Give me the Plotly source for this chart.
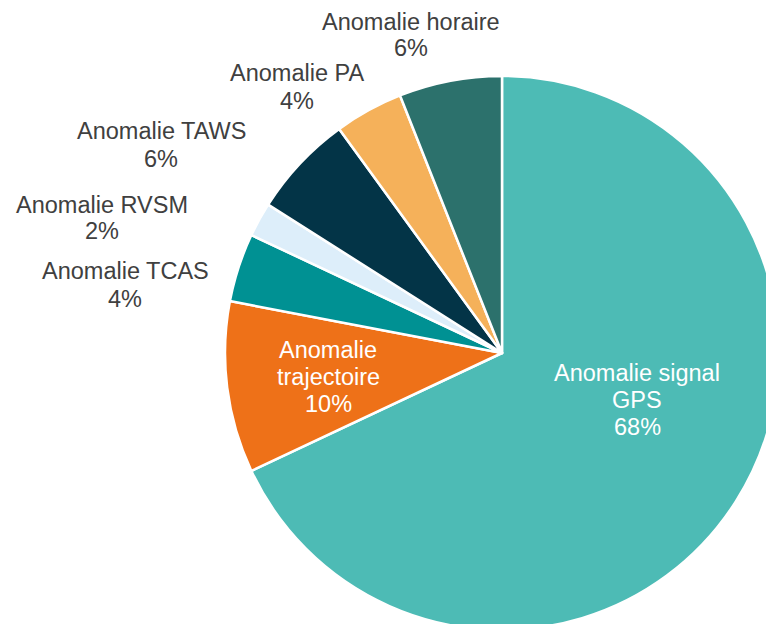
import plotly.graph_objects as go

# ---- data ----
labels = ["Anomalie signal GPS", "Anomalie trajectoire", "Anomalie TCAS",
          "Anomalie RVSM", "Anomalie TAWS", "Anomalie PA", "Anomalie horaire"]
label_lines = [["Anomalie signal", "GPS"], ["Anomalie", "trajectoire"], ["Anomalie TCAS"],
               ["Anomalie RVSM"], ["Anomalie TAWS"], ["Anomalie PA"], ["Anomalie horaire"]]
values = [68, 10, 4, 2, 6, 4, 6]
colors = ["#4DBBB5", "#EE7118", "#009193", "#DDEEFA", "#033447", "#F5B15A", "#2C716C"]
inside = [True, True, False, False, False, False, False]

# label block centres (pixels within the figure)
label_px = [(629, 392), (320, 369), (117, 277), (94, 210), (153, 137), (289, 79), (403, 27)]
LINE_H = 27.0
FONT_SIZE = 23.5

W, H = 774, 624
# pie centre / radius in figure pixels
CX, CY, R = 494, 345, 277

fig = go.Figure(go.Pie(
    labels=labels,
    values=values,
    sort=False,
    direction="clockwise",
    rotation=0,
    marker=dict(colors=colors, line=dict(color="white", width=2.5)),
    textinfo="none",
    hoverinfo="label+percent",
    showlegend=False,
    domain=dict(x=[(CX - R) / W, (CX + R) / W], y=[1 - (CY + R) / H, 1 - (CY - R) / H]),
))

total = sum(values)
for lines, v, ins, (px, py) in zip(label_lines, values, inside, label_px):
    pct = round(100 * v / total)
    all_lines = lines + [f"{pct}%"]
    n = len(all_lines)
    for i, ln in enumerate(all_lines):
        ly = py + (i - (n - 1) / 2) * LINE_H
        fig.add_annotation(
            x=px / W, y=1 - ly / H, xref="paper", yref="paper",
            text=ln, showarrow=False, xanchor="center", yanchor="middle", align="center",
            font=dict(family="Liberation Sans, Arial, sans-serif", size=FONT_SIZE,
                      color="white" if ins else "#404040"),
        )

fig.update_layout(
    width=W, height=H,
    margin=dict(l=0, r=0, t=0, b=0),
    paper_bgcolor="white", plot_bgcolor="white",
)

fig.write_html("out.html")
